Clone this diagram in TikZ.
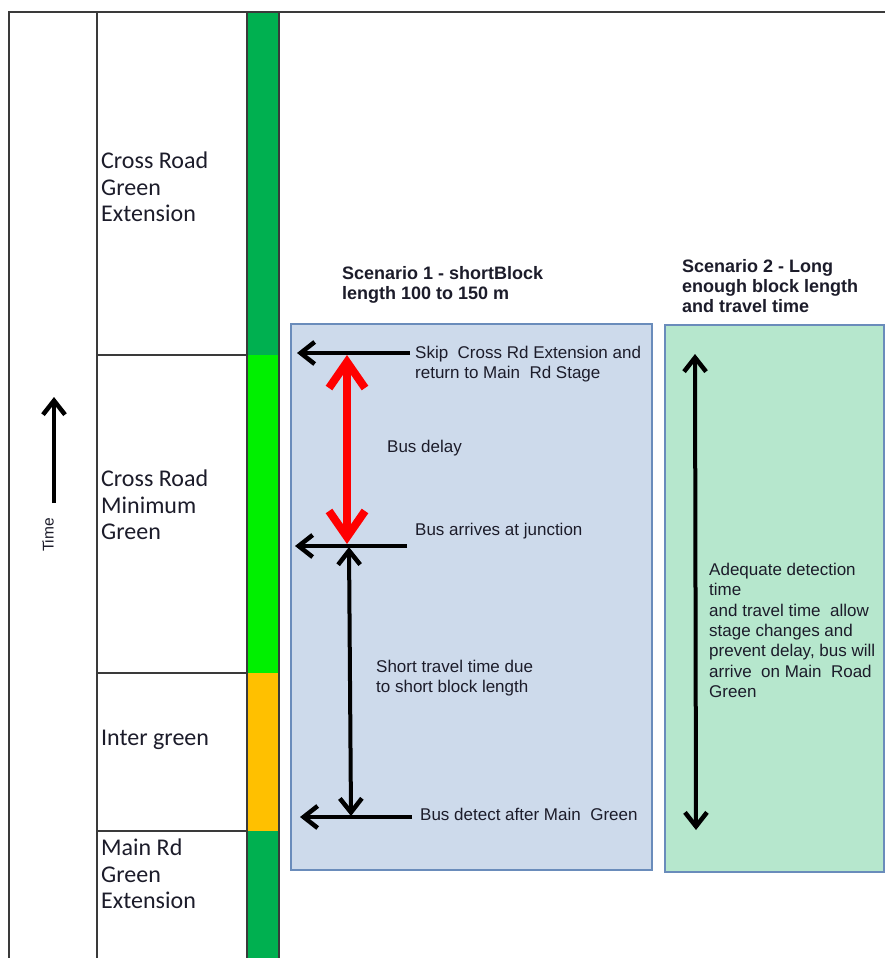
\documentclass[tikz,border=0pt]{standalone}
\usepackage{fontspec}
\setmainfont{Carlito}
\newfontfamily\arial{Liberation Sans}
\usetikzlibrary{arrows.meta}
\definecolor{darkgreen}{HTML}{00B050}
\definecolor{brightgreen}{HTML}{00F000}
\definecolor{ambercol}{HTML}{FFC000}
\definecolor{gridcol}{HTML}{3A3A3A}
\definecolor{sonefill}{HTML}{CDDAEB}
\definecolor{stwofill}{HTML}{B6E7CD}
\definecolor{boxborder}{HTML}{6A8CBB}
\definecolor{txtcol}{HTML}{1C1C2A}
\tikzset{
  gridline/.style={draw=gridcol, line width=1.5pt},
  collabel/.style={anchor=north west, inner sep=0pt, align=left, font=\fontsize{24}{26.5}\selectfont, text=txtcol},
  smalltxt/.style={anchor=north west, inner sep=0pt, align=left, font=\arial\fontsize{17}{20.3}\selectfont, text=txtcol},
  headtxt/.style={anchor=north west, inner sep=0pt, align=left, font=\arial\bfseries\fontsize{18}{20}\selectfont, text=txtcol},
  scenbox/.style={draw=boxborder, line width=1.5pt},
  barrow/.style={line width=4pt, -{Straight Barb[length=14pt,width=22pt,line width=4.5pt]}},
  bdarrow/.style={line width=4pt, {Straight Barb[length=14pt,width=22pt,line width=4.5pt]}-{Straight Barb[length=14pt,width=22pt,line width=4.5pt]}},
  rdarrow/.style={draw=red, line width=8pt, {Straight Barb[length=26pt,width=36pt,line width=8pt]}-{Straight Barb[length=26pt,width=36pt,line width=8pt]}}
}
\begin{document}
\begin{tikzpicture}[x=1pt,y=-1pt]
\useasboundingbox (0,0) rectangle (885,958);
\fill[white] (0,0) rectangle (885,958);
% coloured bar
\fill[darkgreen] (247,12) rectangle (279,355);
\fill[brightgreen] (247,355) rectangle (279,673);
\fill[ambercol] (247,673) rectangle (279,831);
\fill[darkgreen] (247,831) rectangle (279,958);
% grid
\draw[gridline] (885,12) -- (9,12) -- (9,958);
\draw[gridline] (97,12) -- (97,958);
\draw[gridline] (247,12) -- (247,958);
\draw[gridline] (279,12) -- (279,958);
\draw[gridline] (97,355) -- (247,355);
\draw[gridline] (97,673) -- (247,673);
\draw[gridline] (97,831) -- (247,831);
% column labels
\node[collabel] (lab1) at (101,152) {Cross Road\\Green\\Extension};
\node[collabel] (lab2) at (101,470) {Cross Road\\Minimum\\Green};
\node[collabel] (lab3) at (101,730) {Inter green};
\node[collabel] (lab4) at (101,839) {Main Rd\\Green\\Extension};
% time arrow
\coordinate (tb) at (54,503);
\coordinate (tt) at (54,397);
\draw[barrow] (tb) -- (tt);
\node[rotate=90, inner sep=0pt, font=\arial\fontsize{15.5}{18}\selectfont, text=txtcol] (time) at (48,535) {Time};
% scenario boxes
\draw[scenbox, fill=sonefill] (291,324) rectangle (652,870);
\draw[scenbox, fill=stwofill] (665,325) rectangle (884,872);
% headings
\node[headtxt] (h1) at (342,266) {Scenario 1 - shortBlock\\length 100 to 150 m};
\node[headtxt] (h2) at (682,259) {Scenario 2 - Long\\enough block length\\and travel time};
% scenario 1 arrows
\coordinate (a1r) at (410,353); \coordinate (a1l) at (297,353);
\coordinate (a2r) at (407,546); \coordinate (a2l) at (295,546);
\coordinate (a3r) at (412,817); \coordinate (a3l) at (300,817);
\draw[barrow] (a1r) -- (a1l);
\draw[barrow] (a2r) -- (a2l);
\draw[barrow] (a3r) -- (a3l);
\coordinate (rt) at (347,355); \coordinate (rb) at (347,544);
\draw[rdarrow] (rt) -- (rb);
\coordinate (vt) at (349,547); \coordinate (vb) at (351,816);
\draw[bdarrow] (vt) -- (vb);
% scenario 1 texts
\node[smalltxt] (t1) at (415,346) {Skip\ \ Cross Rd Extension and\\return to Main\ \ Rd Stage};
\node[smalltxt] (t2) at (387,440) {Bus delay};
\node[smalltxt] (t3) at (415,523) {Bus arrives at junction};
\node[smalltxt] (t4) at (376,660) {Short travel time due\\to short block length};
\node[smalltxt] (t5) at (420,808) {Bus detect after Main\ \ Green};
% scenario 2
\coordinate (st) at (695,354); \coordinate (sb) at (696,830);
\draw[bdarrow] (st) -- (sb);
\node[smalltxt] (t6) at (709,563) {Adequate detection\\time\\and travel time\ \ allow\\stage changes and\\prevent delay, bus will\\arrive\ \ on Main\ \ Road\\Green};
\end{tikzpicture}
\end{document}
